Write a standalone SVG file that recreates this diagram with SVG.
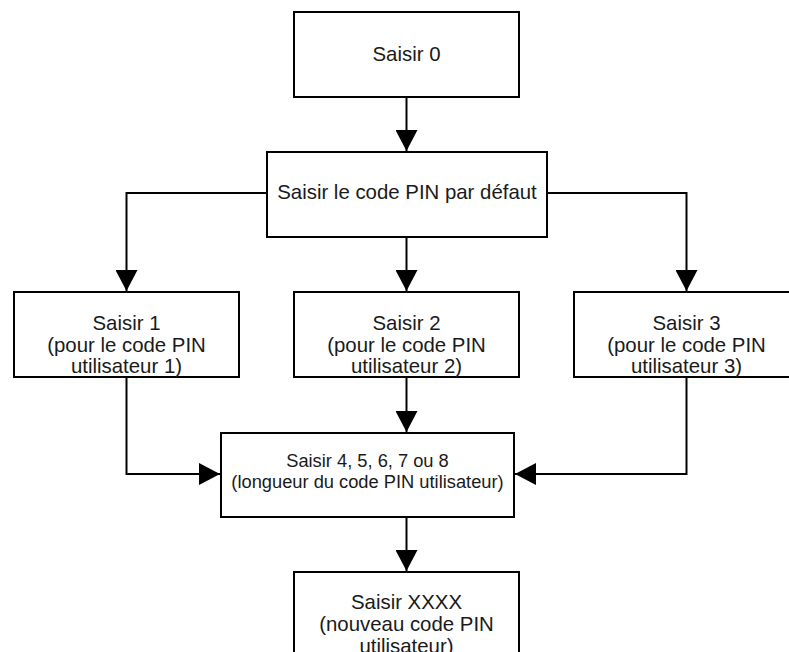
<svg xmlns="http://www.w3.org/2000/svg" width="789" height="652" viewBox="0 0 789 652">
<defs>
<style>
.box{fill:#fff;stroke:#000;stroke-width:2}
.t{font-family:"Liberation Sans",Arial,sans-serif;font-size:20.4px;fill:#1a1a1a;text-anchor:middle}
.s{font-size:18.3px}
.c{fill:none;stroke:#000;stroke-width:2}
</style>
<marker id="ah" markerUnits="userSpaceOnUse" markerWidth="22" markerHeight="22" refX="21" refY="11" orient="auto">
<path d="M0,0 L21,11 L0,22 Z" fill="#000"/>
</marker>
</defs>
<rect width="789" height="652" fill="#fff"/>
<g id="connectors">
<path class="c" d="M406.5,97 V151" marker-end="url(#ah)"/>
<path class="c" d="M267,193 H126.5 V291" marker-end="url(#ah)"/>
<path class="c" d="M547,193 H686.5 V291" marker-end="url(#ah)"/>
<path class="c" d="M406.5,237 V291" marker-end="url(#ah)"/>
<path class="c" d="M126.5,377 V474 H220" marker-end="url(#ah)"/>
<path class="c" d="M686.5,377 V474 H515" marker-end="url(#ah)"/>
<path class="c" d="M406.5,377 V432" marker-end="url(#ah)"/>
<path class="c" d="M406.5,517 V571" marker-end="url(#ah)"/>
</g>
<g id="n1">
<rect class="box" x="294" y="12" width="225" height="85"/>
<text class="t" x="406.5" y="61">Saisir 0</text>
</g>
<g id="n2">
<rect class="box" x="267" y="152" width="280" height="85"/>
<text class="t" x="407" y="198.5">Saisir le code PIN par défaut</text>
</g>
<g id="n3">
<rect class="box" x="14" y="292" width="225" height="85"/>
<text class="t" x="126.5" y="330">Saisir 1</text>
<text class="t" x="126.5" y="351.5">(pour le code PIN</text>
<text class="t" x="126.5" y="373">utilisateur 1)</text>
</g>
<g id="n4">
<rect class="box" x="294" y="292" width="225" height="85"/>
<text class="t" x="406.5" y="330">Saisir 2</text>
<text class="t" x="406.5" y="351.5">(pour le code PIN</text>
<text class="t" x="406.5" y="373">utilisateur 2)</text>
</g>
<g id="n5">
<rect class="box" x="574" y="292" width="225" height="85"/>
<text class="t" x="686.5" y="330">Saisir 3</text>
<text class="t" x="686.5" y="351.5">(pour le code PIN</text>
<text class="t" x="686.5" y="373">utilisateur 3)</text>
</g>
<g id="n6">
<rect class="box" x="221" y="433" width="293" height="84"/>
<text class="t s" x="367.5" y="466.7">Saisir 4, 5, 6, 7 ou 8</text>
<text class="t s" x="367.5" y="488.3">(longueur du code PIN utilisateur)</text>
</g>
<g id="n7">
<rect class="box" x="294" y="572" width="225" height="100"/>
<text class="t" x="406.5" y="609">Saisir XXXX</text>
<text class="t" x="406.5" y="631">(nouveau code PIN</text>
<text class="t" x="406.5" y="653">utilisateur)</text>
</g>
</svg>
